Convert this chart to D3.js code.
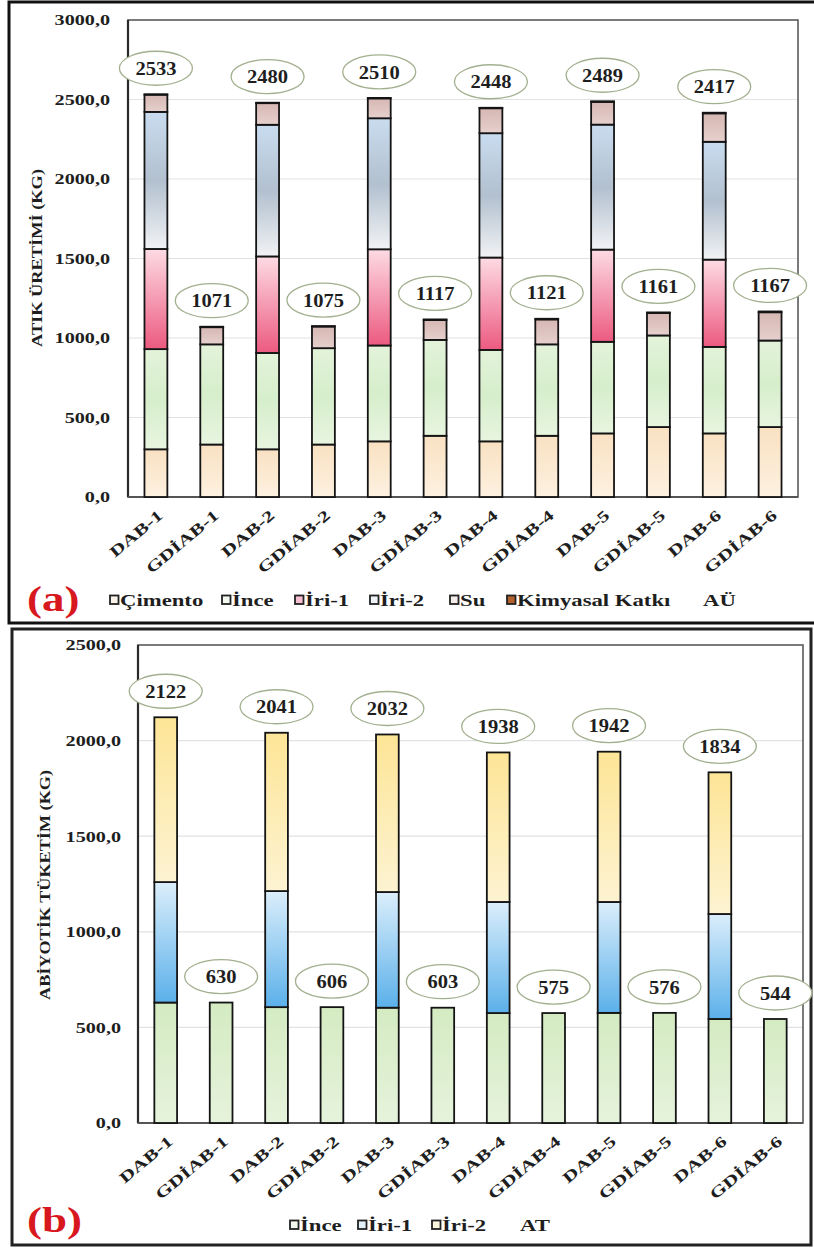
<!DOCTYPE html>
<html>
<head>
<meta charset="utf-8">
<script src="https://cdn.jsdelivr.net/npm/d3@7"></script>
<style>
  body { margin: 0; background: #fff; }
  svg { display: block; }
  text { font-family: "Liberation Serif", "Times New Roman", serif; font-weight: bold; fill: #1e1e1e; }
</style>
</head>
<body>
<svg id="chart" width="814" height="1248"></svg>
<script>
// Mix designs on the category axis
const categories = ["DAB-1", "GDİAB-1", "DAB-2", "GDİAB-2", "DAB-3", "GDİAB-3",
                    "DAB-4", "GDİAB-4", "DAB-5", "GDİAB-5", "DAB-6", "GDİAB-6"];

// (a) waste production components, kg
const cimento   = [300, 330, 300, 330, 350, 385, 350, 385, 400, 440, 400, 440];
const inceA     = [630, 630, 606, 606, 603, 603, 575, 575, 576, 576, 544, 544];
const iri1A     = [630, 0, 607, 0, 605, 0, 581, 0, 580, 0, 549, 0];
const iri2A     = [862, 0, 828, 0, 824, 0, 782, 0, 786, 0, 741, 0];
const su        = [108, 108, 136, 136, 125, 125, 157, 157, 143, 141, 179, 178];
const kimyasal  = [3, 3, 3, 3, 3, 4, 3, 4, 4, 4, 4, 5];

// (b) abiotic consumption components, kg
const inceB = [630, 630, 606, 606, 603, 603, 575, 575, 576, 576, 544, 544];
const iri1B = [630, 0, 607, 0, 605, 0, 581, 0, 580, 0, 549, 0];
const iri2B = [862, 0, 828, 0, 824, 0, 782, 0, 786, 0, 741, 0];

const seriesA = ["Çimento", "İnce", "İri-1", "İri-2", "Su", "Kimyasal Katkı"];
const seriesB = ["İnce", "İri-1", "İri-2"];
const yTicksA = [0, 500, 1000, 1500, 2000, 2500, 3000];
const yTicksB = [0, 500, 1000, 1500, 2000, 2500];

const svg = d3.select("#chart");
const defs = svg.append("defs");

function gradient(id, stops) {
  const g = defs.append("linearGradient").attr("id", id)
    .attr("x1", 0).attr("y1", 0).attr("x2", 0).attr("y2", 1);
  stops.forEach(([o, c]) => g.append("stop").attr("offset", o).attr("stop-color", c));
  return `url(#${id})`;
}

const fillsA = {
  "Çimento": gradient("gCim", [[0, "#f9e1c2"], [1, "#fdf1e0"]]),
  "İnce": gradient("gInceA", [[0, "#e3f3da"], [0.5, "#d6eecb"], [1, "#e8f5e0"]]),
  "İri-1": gradient("gIri1A", [[0, "#fddbe4"], [1, "#ec5a80"]]),
  "İri-2": gradient("gIri2A", [[0, "#c9dcef"], [0.5, "#b2c0cf"], [1, "#f1f2f4"]]),
  "Su": gradient("gSu", [[0, "#d6b7b3"], [1, "#e6d0cd"]]),
  "Kimyasal Katkı": "#b5612b"
};
const fillsB = {
  "İnce": gradient("gInceB", [[0, "#d4ebc2"], [1, "#e6f3dc"]]),
  "İri-1": gradient("gIri1B", [[0, "#dbeefb"], [1, "#5bb0ea"]]),
  "İri-2": gradient("gIri2B", [[0, "#fde596"], [1, "#fdf3d2"]])
};

// Widen a text run along its own baseline
function stretch(sel, k) {
  sel.each(function () {
    const w = this.getComputedTextLength();
    this.setAttribute("textLength", w * k);
    this.setAttribute("lengthAdjust", "spacingAndGlyphs");
  });
}

// Outer panel frames
svg.append("rect").attr("x", 9).attr("y", 2).attr("width", 812).attr("height", 621)
  .attr("fill", "#fff").attr("stroke", "#111").attr("stroke-width", 3);
svg.append("rect").attr("x", 12).attr("y", 629).attr("width", 799).attr("height", 616)
  .attr("fill", "#fff").attr("stroke", "#222").attr("stroke-width", 3);

function panel(o) {
  const rows = categories.map((c, i) => {
    const r = { cat: c };
    o.keys.forEach(k => r[k] = o.values[k][i]);
    return r;
  });

  const x = d3.scaleBand().domain(categories).range([o.left, o.right])
    .paddingInner(0.59).paddingOuter(0.295);
  const y = d3.scaleLinear().domain([0, o.yMax]).range([o.bottom, o.top]);
  const g = svg.append("g");

  // gridlines
  g.selectAll(".grid").data(o.ticks.filter(t => t > 0 && t < o.yMax)).join("line")
    .attr("x1", o.left).attr("x2", o.right)
    .attr("y1", d => y(d)).attr("y2", d => y(d))
    .attr("stroke", "#e2e2e2").attr("stroke-width", 1.2);

  // plot frame
  g.append("rect").attr("x", o.left).attr("y", o.top)
    .attr("width", o.right - o.left).attr("height", o.bottom - o.top)
    .attr("fill", "none").attr("stroke", "#5a5a5a").attr("stroke-width", 1.6);
  g.append("line").attr("x1", o.left).attr("x2", o.left).attr("y1", o.top).attr("y2", o.bottom)
    .attr("stroke", "#2a2a2a").attr("stroke-width", 2.2);
  g.append("line").attr("x1", o.left).attr("x2", o.right).attr("y1", o.bottom).attr("y2", o.bottom)
    .attr("stroke", "#555").attr("stroke-width", 2);

  // y axis labels
  const yAxis = d3.axisLeft(y).tickValues(o.ticks).tickSize(0).tickPadding(0)
    .tickFormat(d => d3.format(".1f")(d).replace(".", ","));
  const ya = g.append("g").attr("transform", `translate(${o.tickRight},0)`).call(yAxis);
  ya.select(".domain").remove();
  ya.attr("font-family", null).attr("font-size", null);
  ya.selectAll("text").attr("font-size", 15.5).attr("fill", "#222");
  stretch(ya.selectAll("text"), 1.3);

  // stacked bars
  const stacked = d3.stack().keys(o.keys)(rows);
  g.selectAll(".layer").data(stacked).join("g")
    .attr("fill", d => o.fills[d.key])
    .selectAll("rect").data(d => d.filter(s => s[1] - s[0] > 0)).join("rect")
    .attr("x", d => x(d.data.cat)).attr("width", x.bandwidth())
    .attr("y", d => y(d[1])).attr("height", d => y(d[0]) - y(d[1]))
    .attr("stroke", "#141414").attr("stroke-width", 1.8);

  // totals in ellipses
  const totals = rows.map(r => ({ cat: r.cat, total: d3.sum(o.keys, k => r[k]) }));
  const lab = g.selectAll(".tot").data(totals).join("g")
    .attr("transform", d => `translate(${x(d.cat) + x.bandwidth() / 2},${y(d.total) - 26})`);
  lab.append("ellipse").attr("rx", 36.5).attr("ry", 17)
    .attr("fill", "#fff").attr("stroke", "#a3b08f").attr("stroke-width", 1.3);
  const tt = lab.append("text").attr("text-anchor", "middle").attr("dy", "0.35em")
    .attr("font-size", 19).text(d => d3.format("d")(Math.round(d.total)));
  stretch(tt, 1.08);

  // category labels
  const xl = g.selectAll(".xl").data(categories).join("text")
    .attr("text-anchor", "end").attr("font-size", 15.5)
    .attr("transform", d => `translate(${x(d) + x.bandwidth() / 2 + 8},${o.bottom + 20}) rotate(-40)`)
    .text(d => d);
  stretch(xl, 1.4);

  // y title, laid out to a fixed run length
  g.append("text").attr("text-anchor", "middle").attr("font-size", 15)
    .attr("transform", `translate(${o.titleX},${o.titleY}) rotate(-90)`)
    .attr("dy", "0.35em")
    .attr("textLength", o.titleLength).attr("lengthAdjust", "spacingAndGlyphs")
    .text(o.title);

  // panel tag
  const tag = g.append("text").attr("x", o.tagX).attr("y", o.tagY)
    .attr("font-size", 36).style("fill", "#d7181e").text(o.tag);
  stretch(tag, 1.25);

  // legend
  o.legend.forEach(it => {
    if (it.swatch) {
      g.append("rect").attr("x", it.x).attr("y", o.legendY - 4.5).attr("width", 8.5).attr("height", 8.5)
        .attr("fill", it.swatch).attr("stroke", "#222").attr("stroke-width", 1.8);
    }
    const t = g.append("text").attr("x", it.swatch ? it.x + 10 : it.x).attr("y", o.legendY)
      .attr("dy", "0.35em").attr("font-size", 16).text(it.label);
    stretch(t, 1.42);
  });
}

panel({
  keys: seriesA,
  values: { "Çimento": cimento, "İnce": inceA, "İri-1": iri1A, "İri-2": iri2A, "Su": su, "Kimyasal Katkı": kimyasal },
  fills: fillsA,
  left: 128, right: 798, top: 20, bottom: 497, yMax: 3000, ticks: yTicksA, tickRight: 110,
  title: "ATIK ÜRETİMİ (KG)", titleX: 37, titleY: 258, titleLength: 178,
  tag: "(a)", tagX: 27, tagY: 611,
  legendY: 600,
  legend: [
    { label: "Çimento", x: 110, swatch: "#fbf3ea" },
    { label: "İnce", x: 222, swatch: "#f3f9ef" },
    { label: "İri-1", x: 295, swatch: "#f7bfcf" },
    { label: "İri-2", x: 370, swatch: "#eef2f6" },
    { label: "Su", x: 450, swatch: "#f4ecea" },
    { label: "Kimyasal Katkı", x: 507, swatch: "#b5612b" },
    { label: "AÜ", x: 703 }
  ]
});

panel({
  keys: seriesB,
  values: { "İnce": inceB, "İri-1": iri1B, "İri-2": iri2B },
  fills: fillsB,
  left: 138, right: 803, top: 645, bottom: 1123, yMax: 2500, ticks: yTicksB, tickRight: 121,
  title: "ABİYOTİK TÜKETİM (KG)", titleX: 45, titleY: 885, titleLength: 230,
  tag: "(b)", tagX: 27, tagY: 1232,
  legendY: 1225,
  legend: [
    { label: "İnce", x: 290, swatch: "#f3f9ef" },
    { label: "İri-1", x: 358, swatch: "#e3f1fb" },
    { label: "İri-2", x: 432, swatch: "#fdf6dd" },
    { label: "AT", x: 520 }
  ]
});
</script>
</body>
</html>
